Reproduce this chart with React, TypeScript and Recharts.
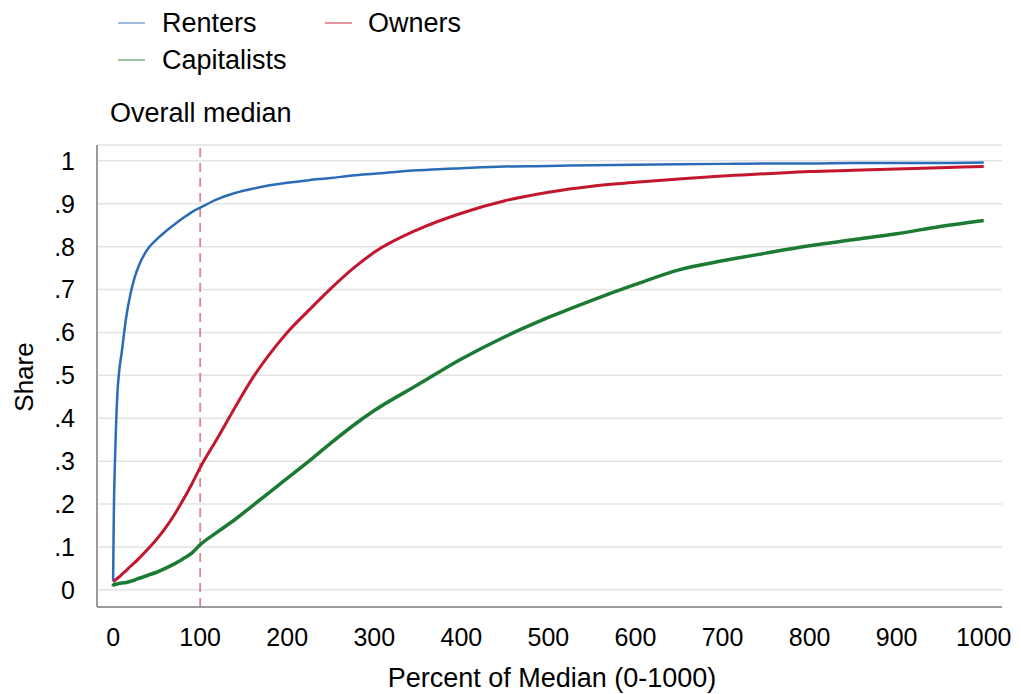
import React from 'react';
import { LineChart, Line, XAxis, YAxis, CartesianGrid, ReferenceLine } from 'recharts';

// percent of overall median (x) and cumulative shares for each group
const pctOfMedian = [0, 0.5, 1, 2, 3, 5, 7, 10, 15, 20, 25, 30, 40, 50, 60, 70, 80, 90, 100, 120, 140, 160, 180, 200, 225, 250, 275, 300, 350, 400, 450, 500, 550, 600, 650, 700, 750, 800, 850, 900, 950, 1000];
const renters = [0.02, 0.12, 0.2, 0.29, 0.36, 0.46, 0.51, 0.555, 0.635, 0.69, 0.73, 0.758, 0.795, 0.817, 0.835, 0.851, 0.866, 0.88, 0.891, 0.911, 0.925, 0.935, 0.943, 0.949, 0.955, 0.96, 0.966, 0.97, 0.978, 0.983, 0.987, 0.988, 0.99, 0.991, 0.992, 0.993, 0.994, 0.994, 0.995, 0.995, 0.995, 0.996];
const owners = [0.02, 0.02, 0.021, 0.022, 0.024, 0.027, 0.03, 0.036, 0.045, 0.055, 0.064, 0.074, 0.095, 0.118, 0.144, 0.174, 0.208, 0.245, 0.285, 0.354, 0.425, 0.493, 0.55, 0.6, 0.652, 0.702, 0.748, 0.787, 0.84, 0.878, 0.907, 0.927, 0.941, 0.95, 0.958, 0.965, 0.97, 0.975, 0.978, 0.981, 0.984, 0.987];
const capitalists = [0.008, 0.011, 0.012, 0.013, 0.013, 0.014, 0.015, 0.016, 0.017, 0.02, 0.023, 0.027, 0.034, 0.041, 0.05, 0.06, 0.072, 0.085, 0.105, 0.135, 0.164, 0.196, 0.228, 0.26, 0.3, 0.342, 0.382, 0.418, 0.478, 0.538, 0.59, 0.635, 0.675, 0.712, 0.746, 0.767, 0.785, 0.802, 0.816, 0.83, 0.847, 0.861];

const xTicks = [0, 100, 200, 300, 400, 500, 600, 700, 800, 900, 1000];
const yTicks = [0, 0.1, 0.2, 0.3, 0.4, 0.5, 0.6, 0.7, 0.8, 0.9, 1];
const medianLine = 100;

const series = [
  { key: 'renters', name: 'Renters', color: '#2a6cb8', width: 2.5 },
  { key: 'owners', name: 'Owners', color: '#c2172f', width: 3 },
  { key: 'capitalists', name: 'Capitalists', color: '#1c7b33', width: 3.5 },
];

const data = pctOfMedian.map((x, i) => ({
  x,
  renters: renters[i],
  owners: owners[i],
  capitalists: capitalists[i],
}));

const FONT = '"Liberation Sans", Arial, sans-serif';
const AXIS = '#9a9a9a';

const fmtY = (v: number) => {
  if (v === 0) return '0';
  if (v === 1) return '1';
  return '.' + Math.round(v * 10);
};

// legend rows
const legendItems = [
  { s: 0, lx: 110, tx: 154, y: 15 },
  { s: 1, lx: 317, tx: 360, y: 15 },
  { s: 2, lx: 110, tx: 154, y: 52 },
];

export default function App() {
  return (
    <div style={{ fontFamily: FONT }}>
      <LineChart
        width={1013}
        height={686}
        data={data}
        margin={{ top: 137, right: 19, left: 0, bottom: 7 }}
      >
        <CartesianGrid vertical={false} stroke="#e3e3e3" strokeWidth={1.5} />
        <XAxis
          dataKey="x"
          type="number"
          domain={[-18.5, 1021]}
          ticks={xTicks}
          allowDataOverflow
          height={80}
          tickLine={false}
          tickSize={0}
          tickMargin={21}
          axisLine={{ stroke: AXIS, strokeWidth: 2 }}
          tick={{ fill: '#000', fontSize: 25, fontFamily: FONT }}
        />
        <XAxis
          xAxisId="top"
          orientation="top"
          dataKey="x"
          type="number"
          domain={[-18.5, 1021]}
          height={0}
          tick={false}
          tickLine={false}
          axisLine={{ stroke: AXIS, strokeWidth: 2 }}
        />
        <YAxis
          type="number"
          domain={[-0.04, 1.037]}
          ticks={yTicks}
          allowDataOverflow
          width={89}
          tickLine={false}
          tickSize={0}
          tickMargin={22}
          tickFormatter={fmtY}
          axisLine={{ stroke: AXIS, strokeWidth: 2 }}
          tick={{ fill: '#000', fontSize: 25, fontFamily: FONT }}
        />
        <ReferenceLine x={medianLine} stroke="#d98893" strokeWidth={1.8} strokeDasharray="9 6" />
        {series.map((s) => (
          <Line
            key={s.key}
            dataKey={s.key}
            name={s.name}
            type="monotone"
            stroke={s.color}
            strokeWidth={s.width}
            dot={false}
            activeDot={false}
            isAnimationActive={false}
          />
        ))}
        {legendItems.map((it) => (
          <g key={it.s}>
            <line x1={it.lx} x2={it.lx + 27} y1={it.y} y2={it.y} stroke={series[it.s].color} strokeOpacity={0.45} strokeWidth={2} />
            <text x={it.tx} y={it.y} dy="0.35em" fontSize={27} fontFamily={FONT} fill="#000">
              {series[it.s].name}
            </text>
          </g>
        ))}
        <text x={102} y={105} dy="0.35em" fontSize={27} fontFamily={FONT} fill="#000">
          Overall median
        </text>
        <text x={544} y={679} textAnchor="middle" fontSize={27} fontFamily={FONT} fill="#000">
          Percent of Median (0-1000)
        </text>
        <text transform="translate(25,369) rotate(-90)" textAnchor="middle" fontSize={26} fontFamily={FONT} fill="#000">
          Share
        </text>
      </LineChart>
    </div>
  );
}
